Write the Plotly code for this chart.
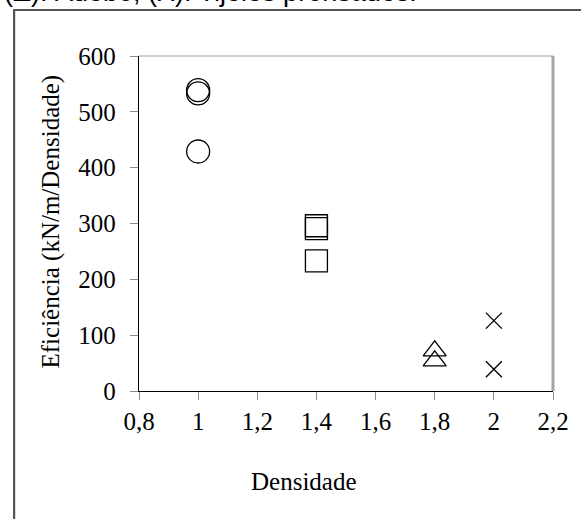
import plotly.graph_objects as go

# ---- data ----
x_circles = [1.0, 1.0, 1.0]
y_circles = [539, 533, 429]
x_squares = [1.4, 1.4, 1.4]
y_squares = [296, 291, 233]
x_triangles = [1.8, 1.8]
y_triangles = [72, 54]
x_crosses = [2.0, 2.0]
y_crosses = [126, 39]

x_tick_vals = [0.8, 1.0, 1.2, 1.4, 1.6, 1.8, 2.0, 2.2]
x_tick_text = ["0,8", "1", "1,2", "1,4", "1,6", "1,8", "2", "2,2"]
y_tick_vals = [0, 100, 200, 300, 400, 500, 600]
y_tick_text = ["0", "100", "200", "300", "400", "500", "600"]

title_text = "(\u0394): Adobe; (X): Tijolos prensados."
x_title = "Densidade"
y_title = "Efici\u00eancia (kN/m/Densidade)"

SERIF = "Liberation Serif, Times New Roman, serif"
SANS = "Liberation Sans, Arial, sans-serif"
FS = 25

W, H = 581, 519
L, R, T, B = 139, 21, 56, 128
PW = W - L - R
PH = H - T - B


def px_x(p):
    return (p - L) / PW


def px_y(p):
    return (H - B - p) / PH


mk_line = dict(color="black", width=1.3)

fig = go.Figure()
fig.add_trace(go.Scatter(x=x_circles, y=y_circles, mode="markers",
                         marker=dict(symbol="circle-open", size=23, line=mk_line, color="black")))
fig.add_trace(go.Scatter(x=x_squares, y=y_squares, mode="markers",
                         marker=dict(symbol="square-open", size=22, line=mk_line, color="black")))
fig.add_trace(go.Scatter(x=x_triangles, y=y_triangles, mode="markers",
                         marker=dict(symbol="triangle-up-open", size=20, line=mk_line, color="black")))
fig.add_trace(go.Scatter(x=x_crosses, y=y_crosses, mode="markers",
                         marker=dict(symbol="x-thin-open", size=16, line=mk_line, color="black")))

axis_common = dict(
    showgrid=False, zeroline=False, showline=True, linecolor="black", linewidth=1.3,
    ticks="outside", ticklen=8, tickcolor="#8c8c8c", tickwidth=1.3,
    tickfont=dict(family=SERIF, size=FS, color="black"),
)

fig.update_layout(
    width=W, height=H,
    margin=dict(l=L, r=R, t=T, b=B, pad=0),
    paper_bgcolor="white", plot_bgcolor="white",
    showlegend=False,
    xaxis=dict(range=[0.8, 2.2], tickmode="array", tickvals=x_tick_vals, ticktext=x_tick_text,
               **axis_common),
    yaxis=dict(range=[0, 600], tickmode="array", tickvals=y_tick_vals, ticktext=y_tick_text,
               ticklabelstandoff=9, **axis_common),
    shapes=[
        # plot-area top and right borders (grey)
        dict(type="line", xref="paper", yref="paper", x0=0, x1=1, y0=1, y1=1,
             line=dict(color="#a0a0a0", width=1.2)),
        dict(type="line", xref="paper", yref="paper", x0=1, x1=1, y0=1, y1=0,
             line=dict(color="#a6a6a6", width=3)),
        # outer frame (left and top)
        dict(type="line", xref="paper", yref="paper", x0=px_x(12), x1=px_x(12),
             y0=px_y(10), y1=px_y(530), line=dict(color="#555555", width=2.2)),
        dict(type="line", xref="paper", yref="paper", x0=px_x(11), x1=px_x(600),
             y0=px_y(10), y1=px_y(10), line=dict(color="#555555", width=2.2)),
    ],
    annotations=[
        dict(text=title_text, xref="paper", yref="paper", x=px_x(0), y=px_y(9),
             xanchor="left", yanchor="bottom", showarrow=False,
             font=dict(family=SANS, size=27, color="black")),
        dict(text=x_title, xref="paper", yref="paper", x=px_x(306.5), y=px_y(481.5),
             xanchor="center", yanchor="middle", showarrow=False,
             font=dict(family=SERIF, size=FS, color="black")),
        dict(text=y_title, xref="paper", yref="paper", x=px_x(50), y=px_y(221),
             xanchor="center", yanchor="middle", showarrow=False, textangle=-90,
             font=dict(family=SERIF, size=FS, color="black")),
    ],
)

fig.write_html(
    "out.html",
    config={"displayModeBar": False},
    post_script="document.body.style.margin='0';document.body.style.overflow='hidden';",
)
